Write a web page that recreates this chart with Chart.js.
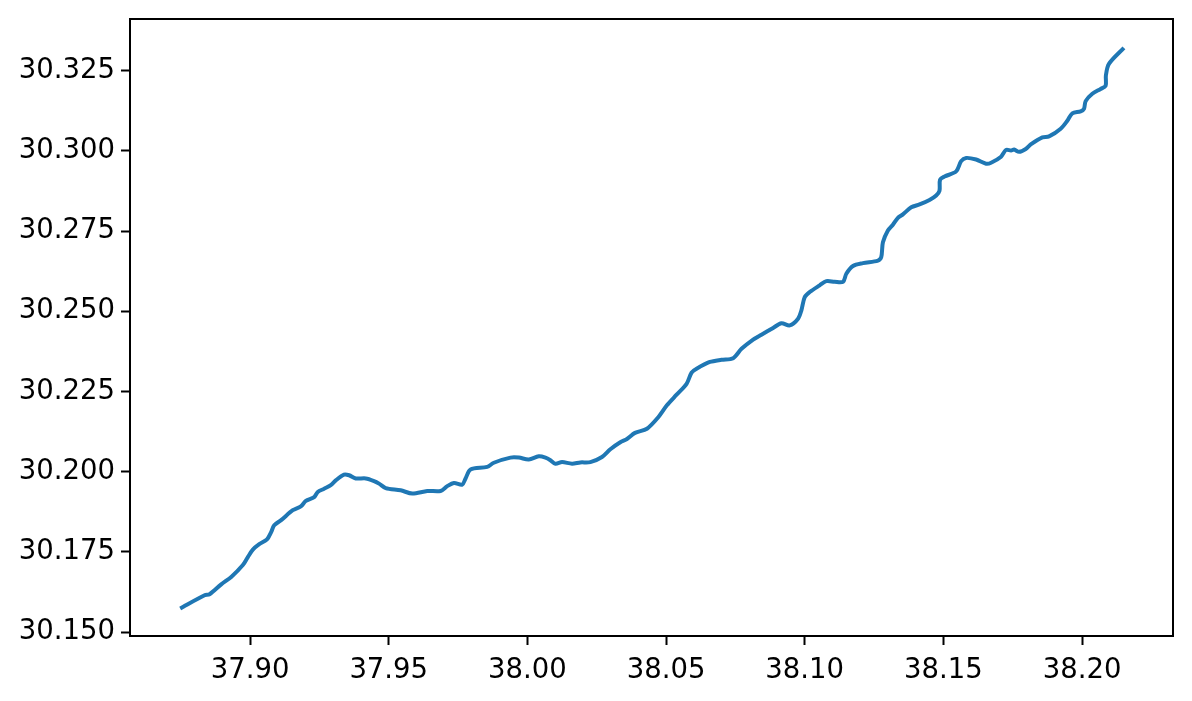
<!DOCTYPE html>
<html>
<head>
<meta charset="utf-8">
<script src="https://cdn.jsdelivr.net/npm/chart.js@4/dist/chart.umd.min.js"></script>
<style>
  html, body { margin: 0; padding: 0; background: #fff; }
  #wrap { width: 1192px; height: 701px; }
</style>
</head>
<body>
<div id="wrap"><canvas id="chart" width="1192" height="701"></canvas></div>
<script>
// track (x, y)
var xs = [
  37.8748, 37.8836, 37.8854, 37.8896, 37.8932, 37.8974, 37.8992, 37.9010, 37.9033, 37.9061,
  37.9076, 37.9087, 37.9112, 37.9154, 37.9183, 37.9201, 37.9231, 37.9244, 37.9267, 37.9291,
  37.9309, 37.9339, 37.9357, 37.9381, 37.9417, 37.9447, 37.9465, 37.9489, 37.9543, 37.9585,
  37.9639, 37.9687, 37.9711, 37.9735, 37.9765, 37.9777, 37.9795, 37.9855, 37.9879, 37.9939,
  37.9969, 38.0005, 38.0041, 38.0065, 38.0083, 38.0101, 38.0125, 38.0161, 38.0191, 38.0227,
  38.0269, 38.0299, 38.0335, 38.0359, 38.0388, 38.0431, 38.0472, 38.0503, 38.0538, 38.0574,
  38.0592, 38.0610, 38.0658, 38.0700, 38.0742, 38.0772, 38.0814, 38.0844, 38.0886, 38.0916,
  38.0946, 38.0976, 38.0988, 38.1000, 38.1018, 38.1054, 38.1078, 38.1108, 38.1138, 38.1150,
  38.1174, 38.1210, 38.1264, 38.1276, 38.1282, 38.1300, 38.1318, 38.1336, 38.1354, 38.1384,
  38.1414, 38.1450, 38.1474, 38.1486, 38.1488, 38.1504, 38.1546, 38.1564, 38.1582, 38.1618,
  38.1654, 38.1672, 38.1708, 38.1726, 38.1744, 38.1755, 38.1773, 38.1797, 38.1815, 38.1857,
  38.1881, 38.1923, 38.1947, 38.1965, 38.1995, 38.2007, 38.2013, 38.2037, 38.2067, 38.2085,
  38.2086, 38.2097, 38.2151
];
var ys = [
  30.1574, 30.1615, 30.1618, 30.1649, 30.1672, 30.1709, 30.1734, 30.1757, 30.1774, 30.1789,
  30.1812, 30.1833, 30.1849, 30.1880, 30.1892, 30.1909, 30.1921, 30.1937, 30.1947, 30.1958,
  30.1973, 30.1991, 30.1989, 30.1979, 30.1979, 30.1971, 30.1963, 30.1949, 30.1942, 30.1932,
  30.1940, 30.1940, 30.1955, 30.1965, 30.1960, 30.1979, 30.2007, 30.2015, 30.2028, 30.2044,
  30.2044, 30.2038, 30.2048, 30.2044, 30.2036, 30.2025, 30.2030, 30.2025, 30.2029, 30.2030,
  30.2046, 30.2070, 30.2092, 30.2102, 30.2121, 30.2134, 30.2170, 30.2207, 30.2240, 30.2274,
  30.2309, 30.2321, 30.2342, 30.2349, 30.2354, 30.2383, 30.2412, 30.2427, 30.2448, 30.2463,
  30.2456, 30.2477, 30.2503, 30.2544, 30.2560, 30.2581, 30.2594, 30.2592, 30.2592, 30.2617,
  30.2641, 30.2650, 30.2658, 30.2669, 30.2715, 30.2752, 30.2770, 30.2791, 30.2802, 30.2824,
  30.2833, 30.2847, 30.2861, 30.2876, 30.2910, 30.2920, 30.2936, 30.2968, 30.2978, 30.2973,
  30.2960, 30.2963, 30.2982, 30.3003, 30.3001, 30.3004, 30.2997, 30.3006, 30.3020, 30.3042,
  30.3045, 30.3069, 30.3094, 30.3117, 30.3123, 30.3131, 30.3155, 30.3178, 30.3193, 30.3203,
  30.3235, 30.3271, 30.3321
];

var xTicks = [37.90, 37.95, 38.00, 38.05, 38.10, 38.15, 38.20];
var yTicks = [30.150, 30.175, 30.200, 30.225, 30.250, 30.275, 30.300, 30.325];

var pts = xs.map(function(x, i) { return { x: x, y: ys[i] }; });

// box round the plot, like the matplotlib spines
var frame = {
  id: 'frame',
  afterDraw: function(chart) {
    var a = chart.chartArea, c = chart.ctx;
    c.save();
    c.strokeStyle = '#000';
    c.lineWidth = 2;
    c.strokeRect(a.left, a.top, a.right - a.left, a.bottom - a.top);
    c.restore();
  }
};

var font = { family: 'DejaVu Sans', size: 27.5 };

new Chart(document.getElementById('chart'), {
  type: 'scatter',
  data: {
    datasets: [{
      data: pts,
      showLine: true,
      borderColor: '#1f77b4',
      borderWidth: 4,
      pointRadius: 0,
      tension: 0.3,
      fill: false
    }]
  },
  plugins: [frame],
  options: {
    responsive: false,
    animation: false,
    events: [],
    layout: { padding: { top: 19, right: 19, left: 0, bottom: 0 } },
    plugins: { legend: { display: false }, tooltip: { enabled: false } },
    scales: {
      x: {
        type: 'linear',
        min: 37.8567,
        max: 38.2328,
        afterBuildTicks: function(s) { s.ticks = xTicks.map(function(v) { return { value: v }; }); },
        afterFit: function(s) { s.height = 65; s.paddingLeft = 0; s.paddingRight = 0; },
        ticks: {
          color: '#000',
          font: font,
          padding: 9,
          maxRotation: 0,
          autoSkip: false,
          callback: function(v) { return Number(v).toFixed(2); }
        },
        grid: { drawOnChartArea: false, drawTicks: true, tickLength: 9, tickColor: '#000', tickWidth: 2 },
        border: { display: true, color: '#000', width: 2 }
      },
      y: {
        type: 'linear',
        min: 30.1488,
        max: 30.3411,
        afterBuildTicks: function(s) { s.ticks = yTicks.map(function(v) { return { value: v }; }); },
        afterFit: function(s) { s.width = 130; s.paddingTop = 0; s.paddingBottom = 0; },
        ticks: {
          color: '#000',
          font: font,
          padding: 6,
          autoSkip: false,
          callback: function(v) { return Number(v).toFixed(3); }
        },
        grid: { drawOnChartArea: false, drawTicks: true, tickLength: 9, tickColor: '#000', tickWidth: 2 },
        border: { display: true, color: '#000', width: 2 }
      }
    }
  }
});
</script>
</body>
</html>
